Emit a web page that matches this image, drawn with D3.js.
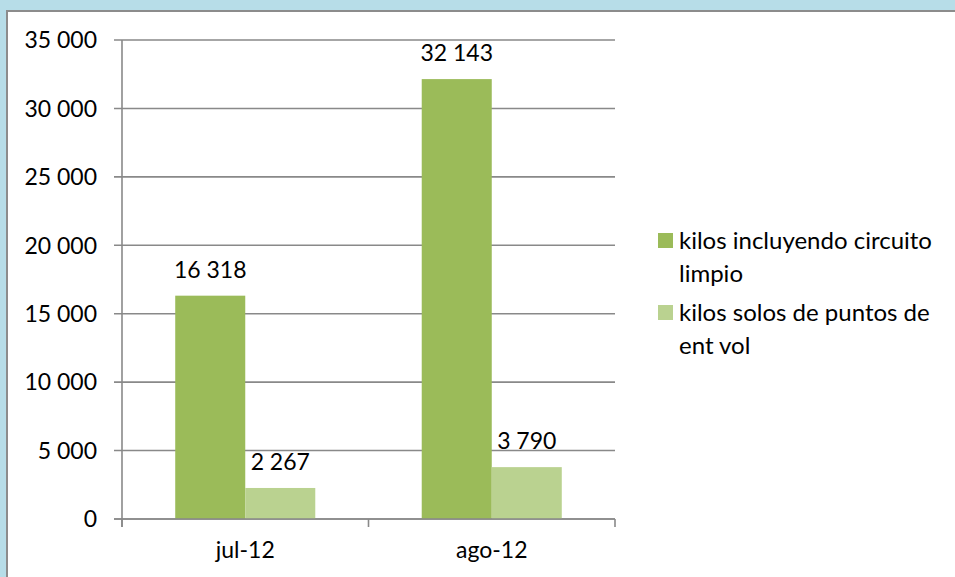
<!DOCTYPE html>
<html><head><meta charset="utf-8">
<script src="https://cdn.jsdelivr.net/npm/d3@7"></script>
<style>body{margin:0;background:#b7dde8;overflow:hidden}svg{display:block}</style>
</head><body>
<svg id="c" width="955" height="577"></svg>
<script>
const categories = ["jul-12", "ago-12"];
const seriesNames = ["kilos incluyendo circuito limpio", "kilos solos de puntos de ent vol"];
const legendLines = [["kilos incluyendo circuito", "limpio"], ["kilos solos de puntos de", "ent vol"]];
const seriesA = [16318, 32143];
const seriesB = [2267, 3790];
const yTicks = [0, 5000, 10000, 15000, 20000, 25000, 30000, 35000];
const colors = ["#9bbb59", "#bad290"];

const svg = d3.select("#c");
const font = "Lato, 'Open Sans', sans-serif";
svg.append("rect").attr("x", 7).attr("y", 11).attr("width", 960).attr("height", 580)
  .attr("fill", "#fff").attr("stroke", "#8c8c8c").attr("stroke-width", 2);

const L = 122, R = 615, T = 40, B = 519;
const y = d3.scaleLinear().domain([0, 35000]).range([B, T]);
const x0 = d3.scaleBand().domain(categories).range([L, R]);
const x1 = d3.scaleBand().domain([0, 1]).range([0, x0.bandwidth()]).paddingOuter(0.76).paddingInner(0);
const fmt = v => d3.format(",")(v).replace(/,/g, " ");

// gridlines
svg.append("g").selectAll("line").data(yTicks).join("line")
  .attr("x1", L - 8).attr("x2", R).attr("y1", d => y(d)).attr("y2", d => y(d))
  .attr("stroke", "#898989").attr("stroke-width", 1.6);
// y labels
svg.append("g").selectAll("text").data(yTicks).join("text")
  .attr("x", 97).attr("y", d => y(d)).attr("dy", "0.36em").attr("text-anchor", "end")
  .attr("font-family", font).attr("font-size", 23).attr("fill", "#000").text(fmt);

// bars
const data = categories.map((c, i) => ({c, vals: [seriesA[i], seriesB[i]]}));
const g = svg.append("g").selectAll("g").data(data).join("g")
  .attr("transform", d => `translate(${x0(d.c)},0)`);
g.selectAll("rect").data(d => d.vals.map((v, k) => ({v, k}))).join("rect")
  .attr("x", d => x1(d.k)).attr("width", x1.bandwidth())
  .attr("y", d => y(d.v)).attr("height", d => B - y(d.v)).attr("fill", d => colors[d.k]);
g.selectAll("text").data(d => d.vals.map((v, k) => ({v, k}))).join("text")
  .attr("x", d => x1(d.k) + x1.bandwidth() / 2).attr("y", d => y(d.v) - 18)
  .attr("text-anchor", "middle").attr("font-family", font).attr("font-size", 23).attr("fill", "#000")
  .text(d => fmt(d.v));

// axes
svg.append("line").attr("x1", L).attr("x2", L).attr("y1", T).attr("y2", B + 8)
  .attr("stroke", "#898989").attr("stroke-width", 1.6);
svg.append("line").attr("x1", L - 8).attr("x2", R).attr("y1", B).attr("y2", B)
  .attr("stroke", "#898989").attr("stroke-width", 1.6);
const xt = [L, ...categories.slice(1).map(c => x0(c)), R];
svg.append("g").selectAll("line").data(xt).join("line")
  .attr("x1", d => d).attr("x2", d => d).attr("y1", B).attr("y2", B + 8)
  .attr("stroke", "#898989").attr("stroke-width", 1.6);
svg.append("g").selectAll("text").data(categories).join("text")
  .attr("x", d => x0(d) + x0.bandwidth() / 2).attr("y", 558).attr("text-anchor", "middle")
  .attr("font-family", font).attr("font-size", 23).attr("fill", "#000").text(d => d);

// legend
const lg = svg.append("g").selectAll("g").data(seriesNames).join("g")
  .attr("transform", (d, i) => `translate(658,${233 + i * 72})`);
lg.append("rect").attr("width", 15).attr("height", 15).attr("fill", (d, i) => colors[i]);
lg.append("text").attr("font-family", font).attr("font-size", 24).attr("fill", "#000")
  .selectAll("tspan").data((d, i) => legendLines[i]).join("tspan")
  .attr("x", 21).attr("y", (d, j) => 16 + j * 33).text(d => d);
</script>
</body></html>
